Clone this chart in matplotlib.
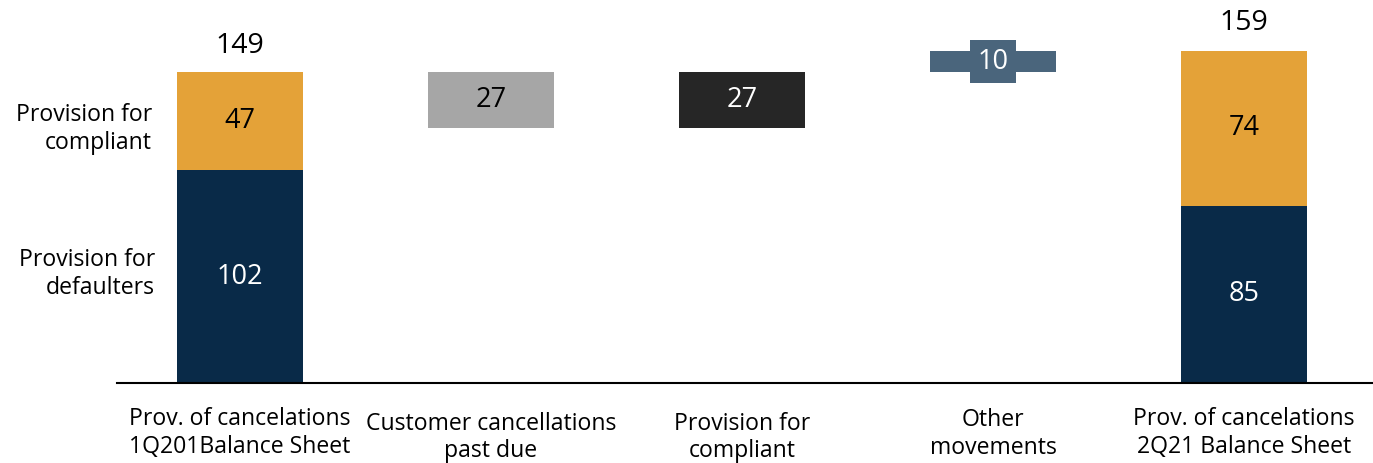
import matplotlib.pyplot as plt
import matplotlib.transforms as mtransforms

plt.rcParams['font.family'] = ['Open Sans', 'DejaVu Sans']

# step names along the x axis
categories = [
    "Prov. of cancelations\n1Q201Balance Sheet",
    "Customer cancellations\npast due",
    "Provision for\ncompliant",
    "Other\nmovements",
    "Prov. of cancelations\n2Q21 Balance Sheet",
]

# opening and closing balances, split in two parts
open_defaulters, open_compliant = 102, 47
close_defaulters, close_compliant = 85, 74

# movements between the two balances
moves = [-27, 27, 10]
move_colors = ["#A6A6A6", "#262626", "#4A657C"]
move_text = ["black", "white", "white"]

navy = "#092A48"
orange = "#E4A238"
num_size = 19.5
label_size = 16.6

fig = plt.figure(figsize=(13.73, 4.63), dpi=100)
ax = fig.add_axes([117 / 1373, 80 / 463, 1 - 117 / 1373, 383 / 463])
ax.set_xlim(-0.4906, 4.5145)
ax.set_ylim(0, 183.5)

w = 0.5026
x = list(range(len(categories)))

# opening stacked bar
ax.bar(x[0], open_defaulters, width=w, color=navy)
ax.bar(x[0], open_compliant, bottom=open_defaulters, width=w, color=orange)
ax.text(x[0], open_defaulters / 2, str(open_defaulters), ha='center', va='center',
        color='white', fontsize=num_size)
ax.text(x[0], open_defaulters + open_compliant / 2, str(open_compliant), ha='center',
        va='center', color='black', fontsize=num_size)
open_total = open_defaulters + open_compliant
ax.text(x[0], open_total + 12.5, str(open_total), ha='center', va='center',
        fontsize=num_size + 1)

# floating movements
level = open_total
for i, (m, c, tc) in enumerate(zip(moves, move_colors, move_text)):
    bottom = min(level, level + m)
    ax.bar(x[i + 1], abs(m), bottom=bottom, width=w, color=c)
    mid = bottom + abs(m) / 2
    if abs(m) < 15:
        # small step gets a label box larger than the bar
        ax.text(x[i + 1], mid, str(abs(m)), ha='center', va='center', color=tc,
                fontsize=num_size,
                bbox=dict(boxstyle='square,pad=0.28', fc=c, ec='none'))
    else:
        ax.text(x[i + 1], mid, str(abs(m)), ha='center', va='center', color=tc,
                fontsize=num_size)
    level += m

# closing stacked bar
ax.bar(x[4], close_defaulters, width=w, color=navy)
ax.bar(x[4], close_compliant, bottom=close_defaulters, width=w, color=orange)
ax.text(x[4], close_defaulters / 2, str(close_defaulters), ha='center', va='center',
        color='white', fontsize=num_size)
ax.text(x[4], close_defaulters + close_compliant / 2, str(close_compliant), ha='center',
        va='center', color='black', fontsize=num_size)
close_total = close_defaulters + close_compliant
ax.text(x[4], close_total + 13.5, str(close_total), ha='center', va='center',
        fontsize=num_size + 1)

# segment names on the left
fig.text(152 / 1373, 1 - 129 / 463, "Provision for\ncompliant", ha='right', va='center',
         fontsize=label_size, linespacing=1.2)
fig.text(155 / 1373, 1 - 274 / 463, "Provision for\ndefaulters", ha='right', va='center',
         fontsize=label_size, linespacing=1.2)

# category labels under the axis
trans = mtransforms.blended_transform_factory(ax.transData, fig.transFigure)
label_y = [433, 437.5, 437.5, 434, 433]
for xi, name, yy in zip(x, categories, label_y):
    ax.text(xi, 1 - yy / 463, name, transform=trans, ha='center', va='center',
            fontsize=label_size, linespacing=1.2)

for s in ['top', 'right', 'left']:
    ax.spines[s].set_visible(False)
ax.spines['bottom'].set_linewidth(1.5)
ax.set_xticks([])
ax.set_yticks([])

fig.savefig("out.png", dpi=100)
